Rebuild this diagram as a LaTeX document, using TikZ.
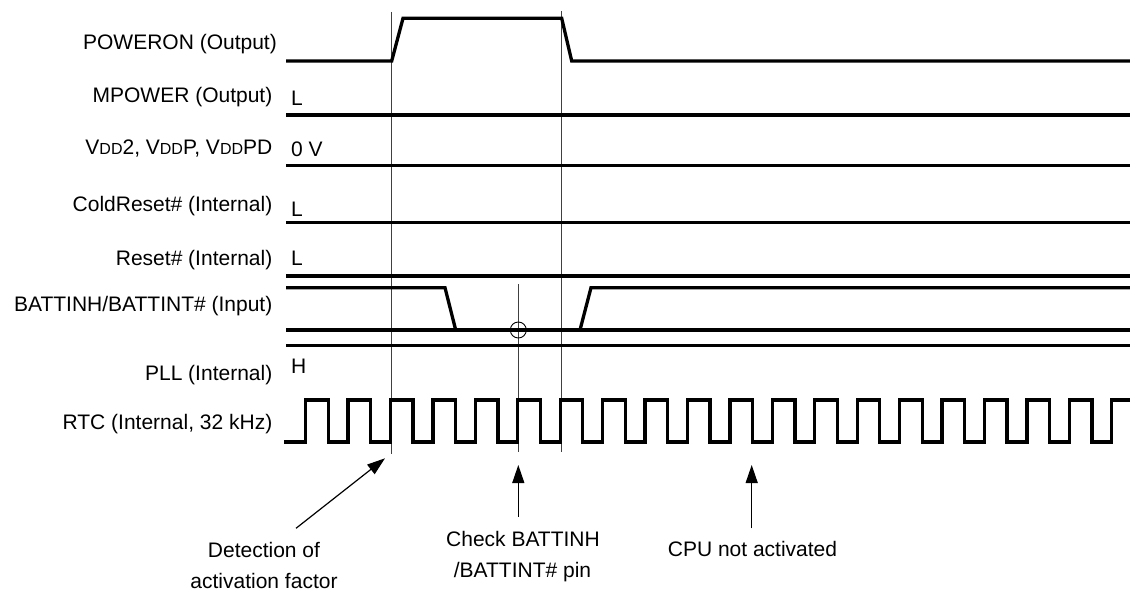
\documentclass[tikz,border=0pt]{standalone}
\usepackage{fontspec}
\setmainfont{Liberation Sans}
\usetikzlibrary{arrows.meta}
\begin{document}
\begin{tikzpicture}[x=1pt,y=-1pt,
  sig/.style={line width=3.3pt},
  guide/.style={line width=0.9pt, black!75},
  lbl/.style={anchor=base east, inner sep=0pt, font=\fontsize{21}{25}\selectfont},
  lvl/.style={anchor=base west, inner sep=0pt, font=\fontsize{21}{25}\selectfont},
  note/.style={anchor=base, inner sep=0pt, font=\fontsize{21}{25}\selectfont},
  pointer/.style={line width=1.2pt, -{Triangle[length=18pt,width=12pt]}}
]
\newcommand{\smd}{{\fontsize{16}{18}\selectfont DD}}
\useasboundingbox (0,0) rectangle (1130,591);

% signal names
\node[lbl] (nPoweron) at (277,49.3) {POWERON (Output)};
\node[lbl] (nMpower) at (272.5,102.7) {MPOWER (Output)};
\node[lbl] (nVdd) at (272.5,155) {V\smd2, V\smd P, V\smd PD};
\node[lbl] (nCold) at (272.5,211.7) {ColdReset\# (Internal)};
\node[lbl] (nReset) at (272.5,265) {Reset\# (Internal)};
\node[lbl] (nBatt) at (272.5,311.7) {BATTINH/BATTINT\# (Input)};
\node[lbl] (nPll) at (272.5,380) {PLL (Internal)};
\node[lbl] (nRtc) at (272.5,429.3) {RTC (Internal, 32 kHz)};

% level texts
\node[lvl] (lMpower) at (291,106) {L};
\node[lvl] (lVdd) at (291,156.7) {0 V};
\node[lvl] (lCold) at (291,216) {L};
\node[lvl] (lReset) at (291,265) {L};
\node[lvl] (lPll) at (291,373.3) {H};

% guide lines
\draw[guide] (391.5,12) -- (391.5,454);
\draw[guide] (561.7,11) -- (561.7,452);
\draw[guide] (518.3,284) -- (518.3,452);

% waveforms
\draw[sig] (286,61) -- (391.7,61) -- (403,18.3) -- (561.7,18.3) -- (571.7,61) -- (1130,61);
\draw[sig] (286,115) -- (1130,115);
\draw[sig] (286,165.7) -- (1130,165.7);
\draw[sig] (286,222.7) -- (1130,222.7);
\draw[sig] (286,276) -- (1130,276);
\draw[sig] (286,287.7) -- (445,287.7) -- (455.7,330) -- (580,330) -- (591,287.7) -- (1130,287.7);
\draw[sig] (286,330) -- (1130,330);
\draw[sig] (286,345.7) -- (1130,345.7);
\draw[sig] (284,442) foreach \k in {0,...,18} { -- ({305.7+42.42*\k},442) -- ({305.7+42.42*\k},400) -- ({328.3+42.42*\k},400) -- ({328.3+42.42*\k},442) } -- (1111.7,442) -- (1111.7,400) -- (1130,400);

\draw[line width=0.9pt] (518.3,330) circle[radius=8];

% annotations
\node[note] (det1) at (264,557.3) {Detection of};
\node[note] (det2) at (264,588) {activation factor};
\node[note] (chk1) at (523,546.7) {Check BATTINH};
\node[note] (chk2) at (522.5,577.3) {/BATTINT\# pin};
\node[note] (cpu) at (752.5,556.7) {CPU not activated};

\coordinate (detTail) at (296,528.3);
\coordinate (detTip) at (385,458.3);
\coordinate (chkTail) at (518.3,516.7);
\coordinate (chkTip) at (518.3,465);
\coordinate (cpuTail) at (751.7,528.3);
\coordinate (cpuTip) at (751.7,465);
\draw[pointer] (detTail) -- (detTip);
\draw[pointer] (chkTail) -- (chkTip);
\draw[pointer] (cpuTail) -- (cpuTip);
\end{tikzpicture}
\end{document}
